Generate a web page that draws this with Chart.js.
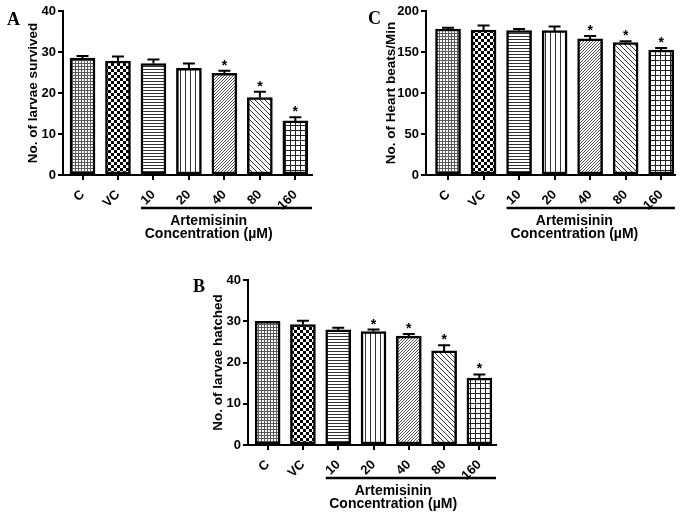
<!DOCTYPE html>
<html><head><meta charset="utf-8">
<script src="https://cdn.jsdelivr.net/npm/chart.js@4.4.0/dist/chart.umd.min.js"></script>
<style>
html,body{margin:0;padding:0;background:#fff;}
#wrap{position:relative;width:685px;height:514px;overflow:hidden;background:#fff;}
canvas{position:absolute;}
</style></head><body>
<div id="wrap">
<canvas id="cA" width="340" height="250" style="left:0;top:0"></canvas>
<canvas id="cC" width="345" height="250" style="left:340px;top:0"></canvas>
<canvas id="cB" width="340" height="256" style="left:180px;top:258px"></canvas>
</div>
<script>
// ---- data ----
const categories = ['C', 'VC', '10', '20', '40', '80', '160'];
const groupLabel = ['Artemisinin', 'Concentration (\u00b5M)'];
const groupStart = 2;

const survivedMean = [28.5, 27.8, 27.2, 26.0, 24.8, 18.9, 13.2];
const survivedSem  = [0.5, 1.1, 1.0, 1.2, 0.6, 1.4, 0.9];
const survivedSig  = [false, false, false, false, true, true, true];
const survivedTicks = [0, 10, 20, 30, 40];

const heartMean = [178, 176.8, 176, 176, 166, 161.4, 152.4];
const heartSem  = [1.6, 5.5, 2, 5, 3.5, 1.6, 2.6];
const heartSig  = [false, false, false, false, true, true, true];
const heartTicks = [0, 50, 100, 150, 200];

const hatchedMean = [30.0, 29.2, 27.9, 27.5, 26.4, 22.8, 16.2];
const hatchedSem  = [0, 0.9, 0.5, 0.5, 0.5, 1.4, 0.9];
const hatchedSig  = [false, false, false, true, true, true, true];
const hatchedTicks = [0, 10, 20, 30, 40];

// ---- patterns ----
function tile(w, h, draw) {
  const c = document.createElement('canvas');
  c.width = w; c.height = h;
  const g = c.getContext('2d');
  g.fillStyle = '#fff'; g.fillRect(0, 0, w, h);
  draw(g);
  return g.createPattern(c, 'repeat');
}
function makePatterns() {
  return [
    tile(3, 3, g => { g.fillStyle = '#5a5a5a'; g.fillRect(0, 0, 3, 1); g.fillRect(0, 0, 1, 3); }),
    tile(6, 6, g => { g.fillStyle = '#000'; g.fillRect(0, 0, 3, 3); g.fillRect(3, 3, 3, 3); }),
    tile(4, 3, g => { g.fillStyle = '#333'; g.fillRect(0, 0, 4, 1); }),
    tile(5, 4, g => { g.fillStyle = '#333'; g.fillRect(0, 0, 1, 4); }),
    tile(3, 3, g => { g.fillStyle = '#555'; for (let i = 0; i < 3; i++) g.fillRect(2 - i, i, 1, 1); }),
    tile(5, 5, g => { g.fillStyle = '#333'; for (let i = 0; i < 5; i++) g.fillRect(i, i, 1, 1); }),
    tile(5, 5, g => { g.fillStyle = '#222'; g.fillRect(0, 0, 5, 1); g.fillRect(0, 0, 1, 5); })
  ];
}

const FONT = '"Liberation Sans", Arial, sans-serif';
Chart.defaults.color = '#000';
Chart.defaults.font.family = FONT;

const annot = {
  id: 'annot',
  afterDatasetsDraw(chart, args, o) {
    const ctx = chart.ctx, ys = chart.scales.y, xs = chart.scales.x;
    const meta = chart.getDatasetMeta(0);
    ctx.save();
    ctx.strokeStyle = '#000'; ctx.fillStyle = '#000';
    ctx.lineWidth = 2;
    o.sems.forEach((e, i) => {
      const bx = meta.data[i].x;
      const y0 = ys.getPixelForValue(o.means[i]);
      const y1 = ys.getPixelForValue(o.means[i] + e);
      if (e > 0) {
        ctx.beginPath();
        ctx.moveTo(bx, y0); ctx.lineTo(bx, y1);
        ctx.moveTo(bx - 6, y1); ctx.lineTo(bx + 6, y1);
        ctx.stroke();
      }
      if (o.sig[i]) {
        ctx.font = 'bold 14px ' + FONT;
        ctx.textAlign = 'center'; ctx.textBaseline = 'alphabetic';
        ctx.fillText('*', bx, y1 - 1);
      }
    });
    const area = chart.chartArea;
    const bar = meta.data[groupStart];
    const x0 = bar.x - bar.width / 2;
    const yb = area.bottom + 33;
    ctx.lineWidth = 2.5;
    ctx.beginPath(); ctx.moveTo(x0, yb); ctx.lineTo(area.right, yb); ctx.stroke();
    const tx = (xs.getPixelForValue(3) + xs.getPixelForValue(4)) / 2 + 2;
    ctx.font = 'bold 14px ' + FONT;
    ctx.textAlign = 'center'; ctx.textBaseline = 'alphabetic';
    ctx.fillText(groupLabel[0], tx, yb + 17);
    ctx.fillText(groupLabel[1], tx, yb + 30);
    ctx.font = 'bold 18px "Liberation Serif", "Times New Roman", serif';
    ctx.textAlign = 'left';
    ctx.fillText(o.letter, o.lx, o.ly);
    ctx.restore();
  }
};

function makeChart(id, c) {
  const tks = c.ticks;
  return new Chart(document.getElementById(id), {
    type: 'bar',
    data: {
      datasets: [{
        data: c.means.map((v, i) => ({ x: i, y: v })),
        backgroundColor: makePatterns(),
        borderColor: '#000',
        borderWidth: 2.5,
        borderSkipped: false,
        barThickness: 25
      }]
    },
    plugins: [annot],
    options: {
      responsive: false, animation: false,
      layout: { padding: { left: c.pl, top: c.pt, right: c.pr, bottom: 0 } },
      plugins: {
        legend: { display: false }, tooltip: { enabled: false },
        annot: { means: c.means, sems: c.sems, sig: c.sig, letter: c.letter, lx: c.lx, ly: c.ly }
      },
      scales: {
        x: {
          type: 'linear', min: c.xMin, max: c.xMax, offset: false,
          afterFit(s) { s.height = c.xh; },
          ticks: {
            stepSize: 1, includeBounds: false, autoSkip: false,
            minRotation: 45, maxRotation: 45, padding: 7,
            font: { size: 13, weight: 'bold' }, color: '#000',
            callback: v => categories[v]
          },
          grid: { offset: false, drawOnChartArea: false, drawTicks: true, tickLength: 5, color: '#000', lineWidth: 2 },
          border: { display: true, color: '#000', width: 2 }
        },
        y: {
          min: tks[0], max: tks[tks.length - 1],
          afterFit(s) { s.width = c.yw; },
          ticks: { stepSize: tks[1] - tks[0], padding: 2, font: { size: 13, weight: 'bold' }, color: '#000' },
          grid: { drawOnChartArea: false, drawTicks: true, tickLength: 5, color: '#000', lineWidth: 2 },
          border: { display: true, color: '#000', width: 2 },
          title: { display: true, text: c.title, color: '#000', font: { size: 13.5, weight: 'bold', lineHeight: 1.2 }, padding: { top: 0, bottom: 0 } }
        }
      }
    }
  });
}

makeChart('cA', {
  means: survivedMean, sems: survivedSem, sig: survivedSig, ticks: survivedTicks,
  title: 'No. of larvae survived', letter: 'A', lx: 7, ly: 25,
  pl: 25, yw: 38, pt: 11, pr: 28, xh: 75, xMin: -0.55, xMax: 6.47
});
makeChart('cC', {
  means: heartMean, sems: heartSem, sig: heartSig, ticks: heartTicks,
  title: 'No. of Heart beats/Min', letter: 'C', lx: 28, ly: 24,
  pl: 43, yw: 43, pt: 11, pr: 10, xh: 75, xMin: -0.62, xMax: 6.39
});
makeChart('cB', {
  means: hatchedMean, sems: hatchedSem, sig: hatchedSig, ticks: hatchedTicks,
  title: 'No. of larvae hatched', letter: 'B', lx: 13, ly: 34,
  pl: 30, yw: 38, pt: 22, pr: 24, xh: 69, xMin: -0.556, xMax: 6.47
});
</script>
</body></html>
